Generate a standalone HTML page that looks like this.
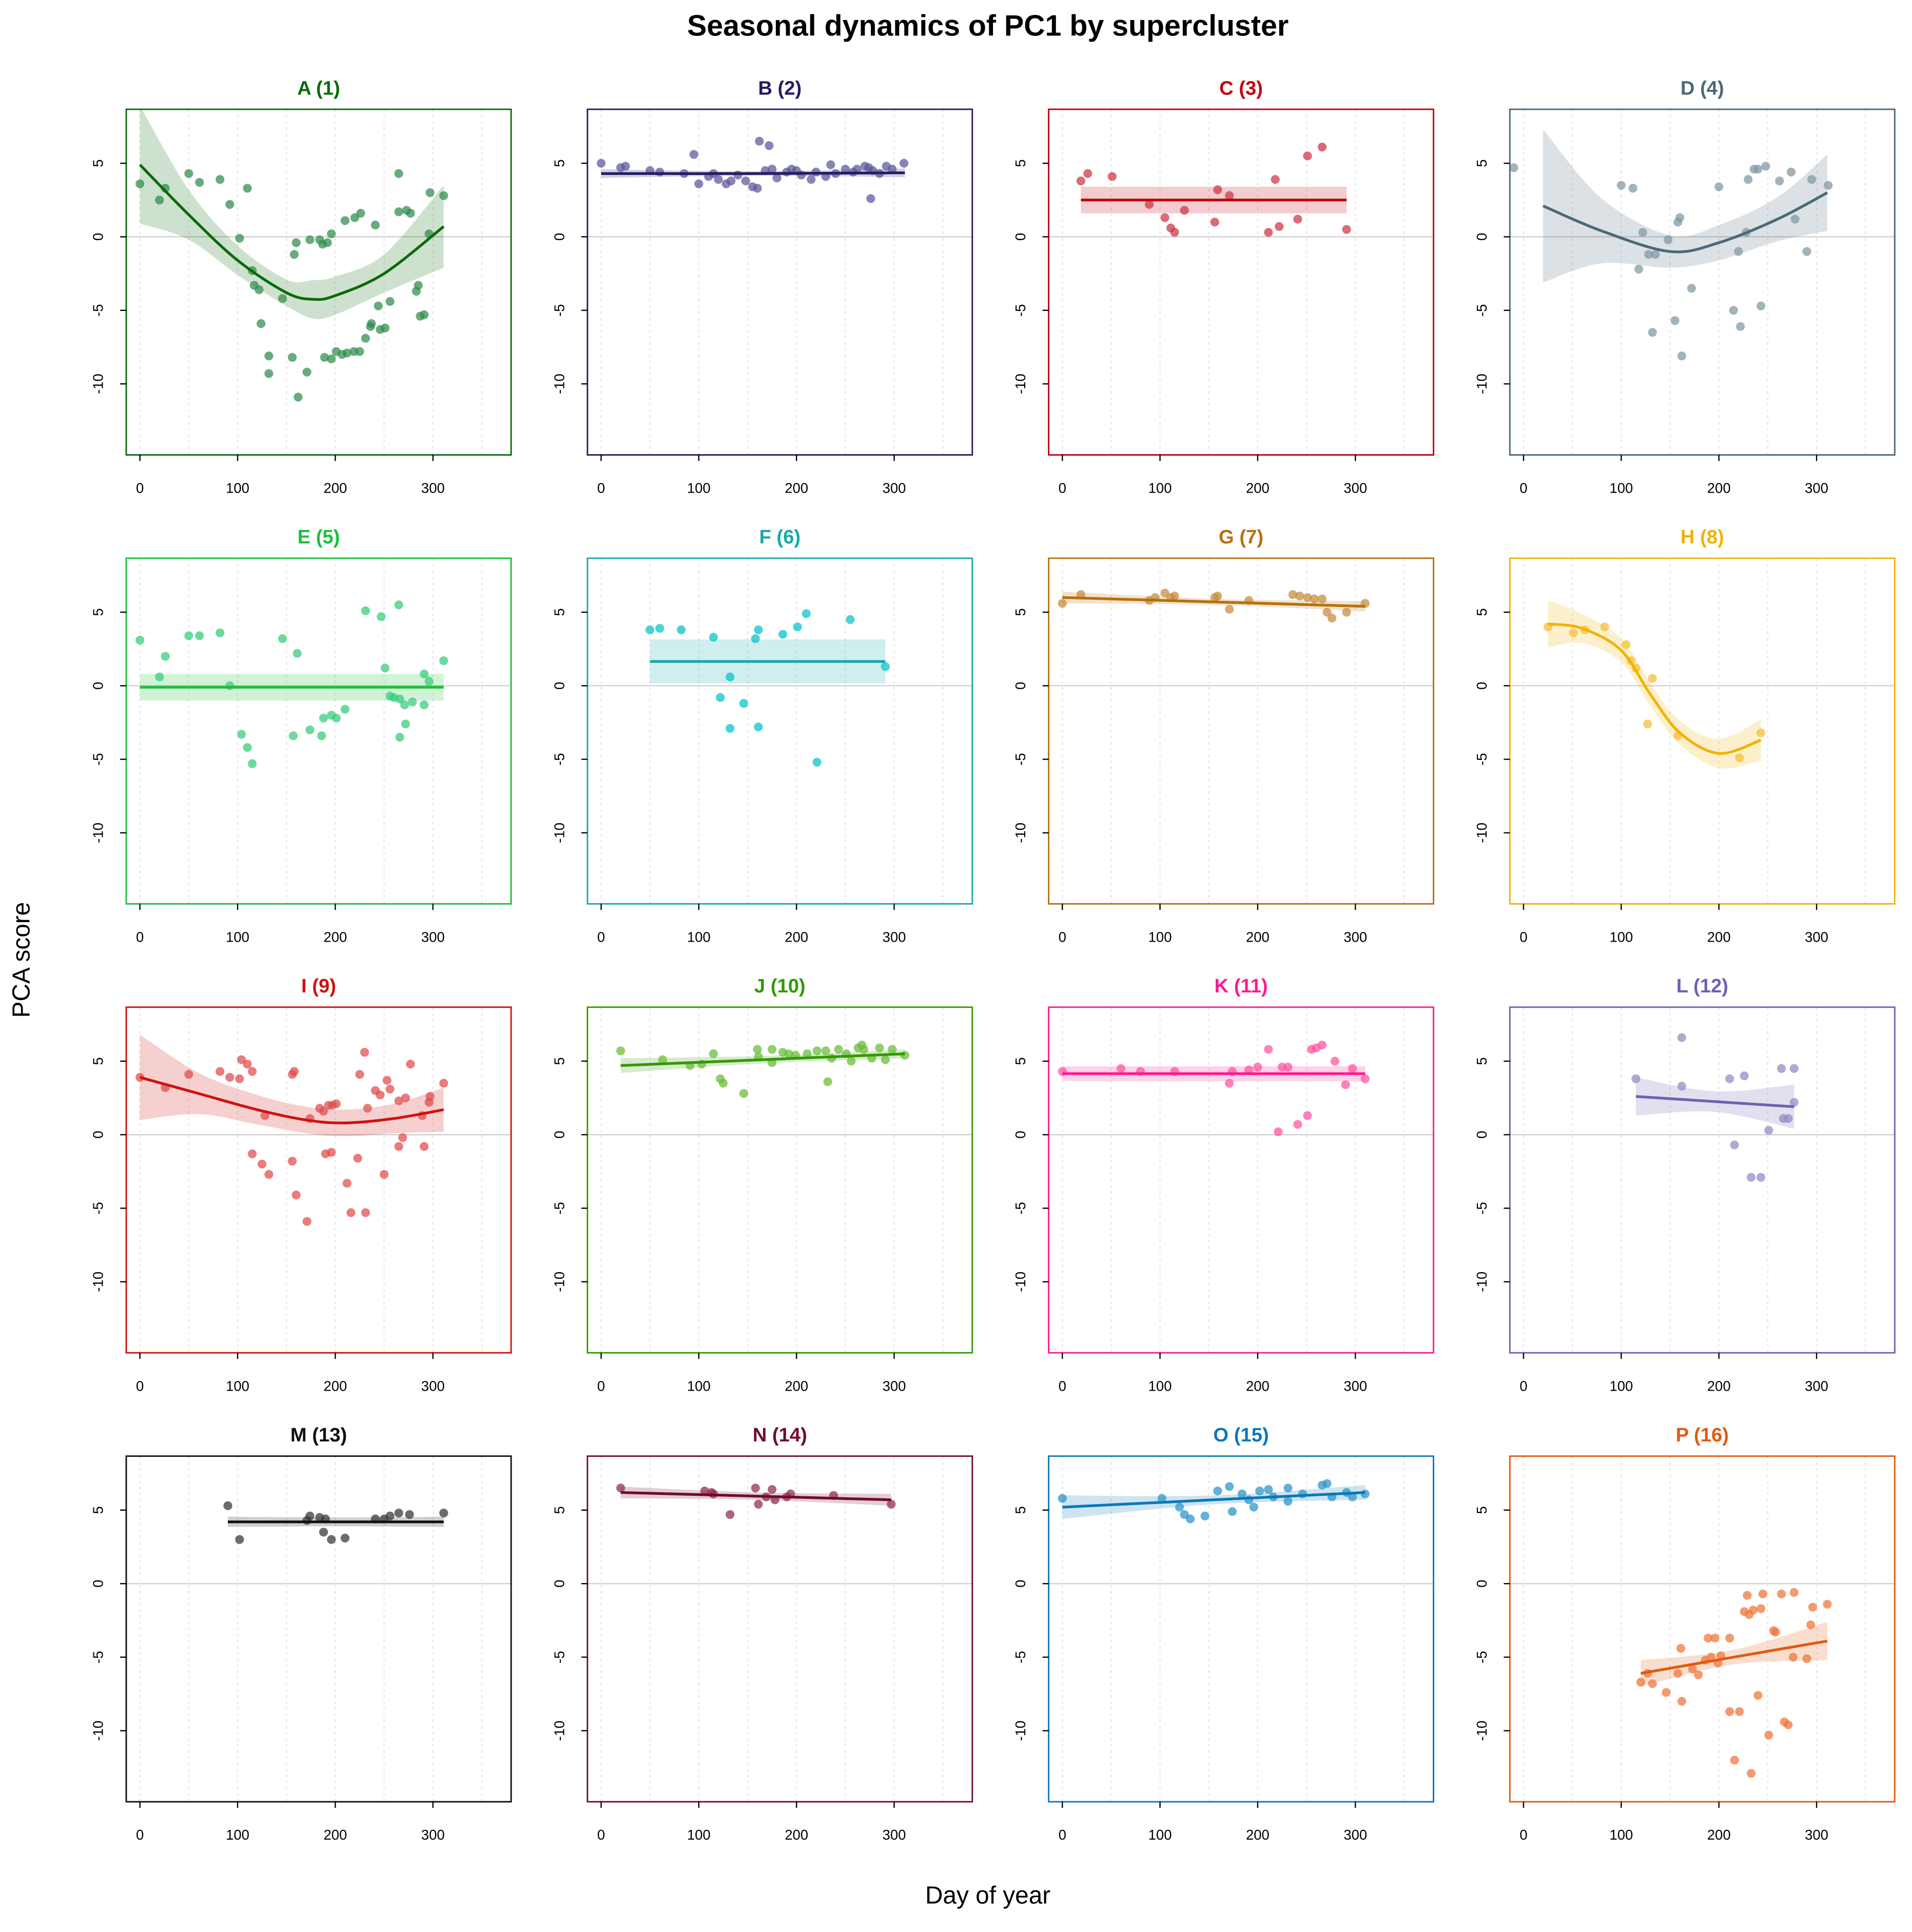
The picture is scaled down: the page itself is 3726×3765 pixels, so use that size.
<!DOCTYPE html>
<html><head><meta charset="utf-8"><style>
html,body{margin:0;padding:0;background:#fff}
svg{display:block}
text{font-family:"Liberation Sans",Arial,sans-serif}
</style></head><body>
<svg id="chart" xmlns="http://www.w3.org/2000/svg" width="3726" height="3765" viewBox="0 0 1560 1576">
<rect x="0" y="0" width="1560" height="1576" fill="#fff"/>
<text x="806" y="29" text-anchor="middle" font-size="24" font-weight="bold">Seasonal dynamics of PC1 by supercluster</text>
<text transform="translate(24,783) rotate(-90)" text-anchor="middle" font-size="20">PCA score</text>
<text x="806" y="1553" text-anchor="middle" font-size="20">Day of year</text>
<g id="panels"></g>
</svg>
<script>
const panelNames = ["A (1)","B (2)","C (3)","D (4)","E (5)","F (6)","G (7)","H (8)","I (9)","J (10)","K (11)","L (12)","M (13)","N (14)","O (15)","P (16)"];
const lineColors = ["#0a6a0a","#221c62","#c0000c","#4a6878","#1cbf3c","#18a8a8","#b8700a","#f2b200","#d01010","#339900","#ff1a8c","#7060b0","#111111","#700a30","#0a78b8","#e05a10"];
const pointColors = ["#2e8b4c","#5a5498","#cc3344","#7f96a2","#33cc77","#00c2c8","#c48a3a","#f5be30","#e04a4a","#66bb33","#ff50a0","#9088c8","#333333","#8e2a4e","#2a92c6","#ee7438"];
const xTicks = [0,100,200,300];
const yTicks = [5,0,-5,-10];
const gridDays = [0,50,100,150,200,250,300,350];

const ptsA = [[0,3.6],[20,2.5],[26,3.3],[50,4.3],[61,3.7],[82,3.9],[92,2.2],[102,-0.1],[110,3.3],[115,-2.3],[117,-3.3],[122,-3.6],[124,-5.9],[132,-8.1],[132,-9.3],[146,-4.2],[156,-8.2],[158,-1.2],[160,-0.4],[162,-10.9],[171,-9.2],[174,-0.2],[184,-0.2],[187,-0.5],[192,-0.4],[196,0.2],[189,-8.2],[196,-8.3],[201,-7.8],[207,-8.0],[210,1.1],[220,1.3],[226,1.6],[241,0.8],[212,-7.9],[219,-7.8],[225,-7.8],[231,-6.9],[236,-6.1],[237,-5.9],[244,-4.7],[246,-6.3],[251,-6.2],[256,-4.4],[265,1.7],[273,1.8],[277,1.6],[283,-3.7],[285,-3.3],[287,-5.4],[291,-5.3],[265,4.3],[297,3.0],[311,2.8],[296,0.2]];
const ptsB = [[0,5.0],[20,4.7],[25,4.8],[50,4.5],[60,4.4],[85,4.3],[95,5.6],[100,3.6],[110,4.1],[115,4.3],[120,3.9],[128,3.6],[133,3.8],[140,4.2],[148,3.8],[155,3.4],[160,3.3],[162,6.5],[168,4.5],[172,6.2],[175,4.6],[180,4.0],[190,4.4],[195,4.6],[200,4.5],[205,4.2],[215,3.9],[220,4.4],[230,4.1],[235,4.9],[240,4.3],[250,4.6],[258,4.4],[262,4.6],[270,4.8],[274,4.7],[278,4.5],[276,2.6],[285,4.3],[292,4.8],[298,4.6],[310,5.0]];
const ptsC = [[19,3.8],[26,4.3],[51,4.1],[89,2.2],[105,1.3],[111,0.6],[115,0.3],[125,1.8],[159,3.2],[156,1.0],[171,2.8],[211,0.3],[218,3.9],[222,0.7],[241,1.2],[251,5.5],[266,6.1],[291,0.5]];
const ptsD = [[-10,4.7],[100,3.5],[112,3.3],[118,-2.2],[122,0.3],[128,-1.2],[132,-6.5],[135,-1.2],[148,-0.2],[155,-5.7],[158,1.0],[160,1.3],[162,-8.1],[172,-3.5],[200,3.4],[215,-5.0],[220,-1.0],[222,-6.1],[228,0.3],[230,3.9],[236,4.6],[240,4.6],[243,-4.7],[248,4.8],[262,3.8],[274,4.4],[278,1.2],[290,-1.0],[295,3.9],[312,3.5]];
const ptsE = [[0,3.1],[20,0.6],[26,2.0],[50,3.4],[61,3.4],[82,3.6],[92,0.0],[104,-3.3],[110,-4.2],[115,-5.3],[146,3.2],[161,2.2],[157,-3.4],[174,-3.0],[186,-3.4],[188,-2.2],[196,-2.0],[201,-2.2],[210,-1.6],[231,5.1],[247,4.7],[251,1.2],[256,-0.7],[260,-0.8],[265,5.5],[266,-0.9],[271,-1.3],[266,-3.5],[272,-2.6],[279,-1.1],[291,-1.3],[291,0.8],[296,0.3],[311,1.7]];
const ptsF = [[50,3.8],[60,3.9],[82,3.8],[115,3.3],[122,-0.8],[132,0.6],[132,-2.9],[146,-1.2],[158,3.2],[161,3.8],[161,-2.8],[186,3.5],[201,4.0],[210,4.9],[221,-5.2],[255,4.5],[291,1.3]];
const ptsG = [[0,5.6],[19,6.2],[89,5.8],[95,6.0],[105,6.3],[111,6.0],[115,6.1],[156,6.0],[159,6.1],[171,5.2],[191,5.8],[236,6.2],[243,6.1],[251,6.0],[258,5.9],[266,5.9],[271,5.0],[276,4.6],[291,5.0],[310,5.6]];
const ptsH = [[25,4.0],[51,3.6],[63,3.8],[83,4.0],[105,2.8],[110,1.7],[115,1.2],[132,0.5],[127,-2.6],[158,-3.4],[221,-4.9],[243,-3.2]];
const ptsI = [[0,3.9],[26,3.2],[50,4.1],[82,4.3],[92,3.9],[102,3.8],[104,5.1],[110,4.8],[115,4.3],[115,-1.3],[125,-2.0],[128,1.3],[132,-2.7],[156,4.1],[156,-1.8],[158,4.3],[160,-4.1],[171,-5.9],[174,1.1],[184,1.8],[188,1.6],[193,2.0],[197,2.0],[201,2.1],[190,-1.3],[196,-1.2],[212,-3.3],[216,-5.3],[223,-1.6],[225,4.1],[231,-5.3],[230,5.6],[233,1.8],[241,3.0],[246,2.7],[250,-2.7],[253,3.7],[256,3.1],[265,2.3],[265,-0.8],[269,-0.2],[272,2.5],[277,4.8],[289,1.3],[291,-0.8],[296,2.2],[297,2.6],[311,3.5]];
const ptsJ = [[20,5.7],[63,5.1],[91,4.7],[103,4.8],[115,5.5],[122,3.8],[125,3.5],[146,2.8],[160,5.8],[161,5.3],[175,4.9],[175,5.8],[186,5.6],[192,5.5],[199,5.4],[211,5.5],[221,5.7],[230,5.7],[232,3.6],[236,5.2],[243,5.8],[251,5.5],[256,5.0],[263,5.9],[267,6.1],[269,5.8],[277,5.2],[285,5.9],[291,5.1],[298,5.8],[311,5.4]];
const ptsK = [[0,4.3],[60,4.5],[80,4.3],[115,4.3],[171,3.5],[174,4.3],[191,4.4],[200,4.6],[211,5.8],[221,0.2],[225,4.6],[231,4.6],[241,0.7],[251,1.3],[255,5.8],[260,5.9],[266,6.1],[279,5.0],[290,3.4],[297,4.5],[310,3.8]];
const ptsL = [[115,3.8],[162,6.6],[162,3.3],[211,3.8],[216,-0.7],[226,4.0],[233,-2.9],[243,-2.9],[251,0.3],[264,4.5],[266,1.1],[271,1.1],[277,4.5],[277,2.2]];
const ptsM = [[90,5.3],[102,3.0],[171,4.3],[174,4.6],[184,4.5],[190,4.4],[188,3.5],[196,3.0],[210,3.1],[241,4.4],[250,4.4],[256,4.6],[265,4.8],[276,4.7],[311,4.8]];
const ptsN = [[20,6.5],[106,6.3],[113,6.2],[115,6.1],[132,4.7],[158,6.5],[161,5.4],[169,5.9],[175,6.4],[178,5.7],[190,5.9],[194,6.1],[238,6.0],[297,5.4]];
const ptsO = [[0,5.8],[102,5.8],[120,5.2],[125,4.7],[131,4.4],[146,4.6],[159,6.3],[171,6.6],[174,4.9],[184,6.1],[191,5.7],[196,5.2],[202,6.3],[211,6.4],[216,5.9],[231,6.5],[231,5.6],[246,6.1],[266,6.7],[271,6.8],[276,5.9],[291,6.2],[297,5.9],[310,6.1]];
const ptsP = [[120,-6.7],[127,-6.1],[132,-6.8],[146,-7.4],[158,-6.1],[161,-4.4],[162,-8.0],[173,-5.8],[179,-6.2],[186,-5.2],[189,-3.7],[192,-5.0],[196,-3.7],[199,-5.4],[202,-4.9],[211,-8.7],[211,-3.7],[221,-8.7],[226,-1.9],[229,-0.8],[216,-12.0],[231,-2.1],[233,-12.9],[235,-1.8],[240,-7.6],[243,-1.7],[245,-0.7],[251,-10.3],[256,-3.2],[258,-3.3],[264,-0.7],[267,-9.4],[271,-9.6],[276,-5.0],[277,-0.6],[290,-5.1],[294,-2.8],[296,-1.6],[311,-1.4]];

const fitDaysA = [0,50,100,150,177,200,250,311];
const fitValsA = [4.9,1.5,-1.6,-3.8,-4.25,-4.0,-2.5,0.7];
const fitSeA = [4.0,1.7,1.0,0.9,1.3,1.3,1.3,2.8];
const fitDaysB = [0,155,311]; const fitValsB = [4.3,4.3,4.35]; const fitSeB = [0.3,0.15,0.3];
const fitDaysC = [19,155,291]; const fitValsC = [2.5,2.5,2.5]; const fitSeC = [0.9,0.9,0.9];
const fitDaysD = [20,80,150,200,260,311]; const fitValsD = [2.1,0.4,-1.0,-0.4,1.2,3.0]; const fitSeD = [5.2,2.2,1.1,1.2,1.5,2.6];
const fitDaysE = [0,155,311]; const fitValsE = [-0.1,-0.1,-0.1]; const fitSeE = [0.9,0.9,0.9];
const fitDaysF = [50,170,291]; const fitValsF = [1.65,1.65,1.65]; const fitSeF = [1.5,1.5,1.5];
const fitDaysG = [0,155,310]; const fitValsG = [6.0,5.7,5.4]; const fitSeG = [0.4,0.2,0.35];
const fitDaysH = [25,60,100,130,160,200,243]; const fitValsH = [4.2,3.9,2.4,-0.6,-3.2,-4.6,-3.7]; const fitSeH = [1.6,1.0,0.8,0.8,0.8,1.0,1.4];
const fitDaysI = [0,60,120,170,210,260,311]; const fitValsI = [3.9,2.8,1.7,1.0,0.8,1.1,1.7]; const fitSeI = [2.9,1.4,1.0,0.9,0.9,1.0,1.5];
const fitDaysJ = [20,165,311]; const fitValsJ = [4.7,5.1,5.5]; const fitSeJ = [0.5,0.25,0.3];
const fitDaysK = [0,155,310]; const fitValsK = [4.15,4.15,4.15]; const fitSeK = [0.5,0.5,0.5];
const fitDaysL = [115,196,277]; const fitValsL = [2.6,2.25,1.9]; const fitSeL = [1.3,0.7,1.5];
const fitDaysM = [90,200,311]; const fitValsM = [4.2,4.2,4.2]; const fitSeM = [0.35,0.3,0.35];
const fitDaysN = [20,158,297]; const fitValsN = [6.2,5.95,5.7]; const fitSeN = [0.4,0.25,0.4];
const fitDaysO = [0,155,310]; const fitValsO = [5.2,5.7,6.2]; const fitSeO = [0.8,0.3,0.5];
const fitDaysP = [120,215,311]; const fitValsP = [-6.1,-5.0,-3.9]; const fitSeP = [0.9,0.5,1.3];

const allPts = [ptsA,ptsB,ptsC,ptsD,ptsE,ptsF,ptsG,ptsH,ptsI,ptsJ,ptsK,ptsL,ptsM,ptsN,ptsO,ptsP];
const allFitDays = [fitDaysA,fitDaysB,fitDaysC,fitDaysD,fitDaysE,fitDaysF,fitDaysG,fitDaysH,fitDaysI,fitDaysJ,fitDaysK,fitDaysL,fitDaysM,fitDaysN,fitDaysO,fitDaysP];
const allFitVals = [fitValsA,fitValsB,fitValsC,fitValsD,fitValsE,fitValsF,fitValsG,fitValsH,fitValsI,fitValsJ,fitValsK,fitValsL,fitValsM,fitValsN,fitValsO,fitValsP];
const allFitSe = [fitSeA,fitSeB,fitSeC,fitSeD,fitSeE,fitSeF,fitSeG,fitSeH,fitSeI,fitSeJ,fitSeK,fitSeL,fitSeM,fitSeN,fitSeO,fitSeP];

const NS = "http://www.w3.org/2000/svg";
const root = document.getElementById('panels');
const W = 314, H = 282, DMIN = -14, DMAX = 380, VMAX = 8.67, VMIN = -14.83;
function mk(tag, attrs, parent){const e=document.createElementNS(NS,tag);for(const k in attrs)e.setAttribute(k,attrs[k]);parent.appendChild(e);return e;}
function smoothPath(p){
  if(p.length===2) return `M${p[0][0]},${p[0][1]}L${p[1][0]},${p[1][1]}`;
  let d=`M${p[0][0]},${p[0][1]}`;
  for(let i=0;i<p.length-1;i++){
    const p0=p[Math.max(0,i-1)],p1=p[i],p2=p[i+1],p3=p[Math.min(p.length-1,i+2)];
    const c1=[p1[0]+(p2[0]-p0[0])/6,p1[1]+(p2[1]-p0[1])/6];
    const c2=[p2[0]-(p3[0]-p1[0])/6,p2[1]-(p3[1]-p1[1])/6];
    d+=`C${c1[0]},${c1[1]} ${c2[0]},${c2[1]} ${p2[0]},${p2[1]}`;
  }
  return d;
}
function smoothCont(p){
  let d='';
  for(let i=0;i<p.length-1;i++){
    const p0=p[Math.max(0,i-1)],p1=p[i],p2=p[i+1],p3=p[Math.min(p.length-1,i+2)];
    if(p.length===2){d+=`L${p2[0]},${p2[1]}`;continue;}
    const c1=[p1[0]+(p2[0]-p0[0])/6,p1[1]+(p2[1]-p0[1])/6];
    const c2=[p2[0]-(p3[0]-p1[0])/6,p2[1]-(p3[1]-p1[1])/6];
    d+=`C${c1[0]},${c1[1]} ${c2[0]},${c2[1]} ${p2[0]},${p2[1]}`;
  }
  return d;
}

for(let i=0;i<16;i++){
  const c=i%4, r=Math.floor(i/4);
  const L=103+c*376.3, T=89+r*366.3;
  const xs=d=>L+(d-DMIN)/(DMAX-DMIN)*W;
  const ys=v=>T+(VMAX-v)/(VMAX-VMIN)*H;
  const col=lineColors[i];
  const g=mk('g',{},root);
  
  
  const cp=mk('clipPath',{id:'clip'+i},g);
  mk('rect',{x:L,y:T,width:W,height:H},cp);
  const title=mk('text',{x:L+W/2,y:T-12,'text-anchor':'middle','font-size':16,'font-weight':'bold',fill:col},g);
  title.textContent=panelNames[i];
  
  
  gridDays.forEach(d=>{
    const gl=mk('line',{x1:xs(d),x2:xs(d),y1:T,y2:T+H,stroke:'#e6e6e6','stroke-width':1,'stroke-dasharray':'2,3'},g);
    
    
  });
  const zl=mk('line',{x1:L,x2:L+W,y1:ys(0),y2:ys(0),stroke:'#d0d0d0','stroke-width':1},g);
  
  
  const fd=allFitDays[i], fv=allFitVals[i], fs=allFitSe[i];
  const up=fd.map((d,k)=>[xs(d),ys(fv[k]+fs[k])]);
  const lo=fd.map((d,k)=>[xs(d),ys(fv[k]-fs[k])]).reverse();
  const bandD=smoothPath(up)+`L${lo[0][0]},${lo[0][1]}`+smoothCont(lo)+'Z';
  const band=mk('path',{d:bandD,fill:col,'fill-opacity':0.2,'clip-path':`url(#clip${i})`},g);
  
  
  allPts[i].forEach(p=>{
    const dot=mk('circle',{cx:xs(p[0]),cy:ys(p[1]),r:3.6,fill:pointColors[i],'fill-opacity':0.72},g);
    
    
  });
  const fit=mk('path',{d:smoothPath(fd.map((d,k)=>[xs(d),ys(fv[k])])),fill:'none',stroke:col,'stroke-width':2.2},g);
  
  
  const box=mk('rect',{x:L,y:T,width:W,height:H,fill:'none',stroke:col,'stroke-width':1.2},g);
  
  
  xTicks.forEach(t=>{
    mk('line',{x1:xs(t),x2:xs(t),y1:T+H,y2:T+H+5,stroke:'#000','stroke-width':1},g);
    const tl=mk('text',{x:xs(t),y:T+H+31,'text-anchor':'middle','font-size':11.5},g);
    tl.textContent=t;
    
    
  });
  yTicks.forEach(t=>{
    mk('line',{x1:L-5,x2:L,y1:ys(t),y2:ys(t),stroke:'#000','stroke-width':1},g);
    const tl=mk('text',{transform:`translate(${L-19},${ys(t)}) rotate(-90)`,'text-anchor':'middle','font-size':11.5},g);
    tl.textContent=t;
    
    
  });
}
</script>
</body></html>
